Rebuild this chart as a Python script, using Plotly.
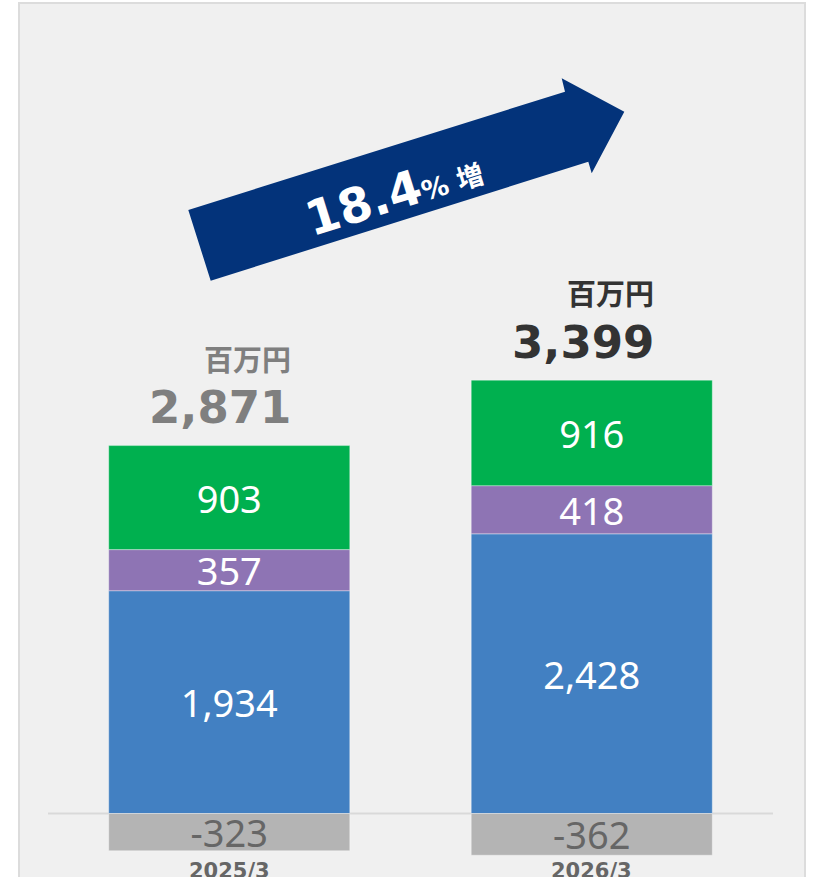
import plotly.graph_objects as go

categories = ["2025/3", "2026/3"]
seg_blue = [1934, 2428]
seg_purple = [357, 418]
seg_green = [903, 916]
seg_gray = [-323, -362]
totals = [2871, 3399]
total_colors = ["#7f7f7f", "#333333"]
unit_label = "百万円"
growth_main = "18.4"
growth_suffix = "% 増"

W, H = 815, 877
ML, MR = 48, 42
PW = W - ML - MR

def px2paper(px, py):
    return (px - ML) / PW, 1 - py / H

x_pos = [0, 1]
fig = go.Figure()
num_font = dict(family="Noto Sans, Open Sans, sans-serif", size=38, color="white")
line = dict(width=1, color="rgba(255,255,255,0.35)")
for vals, col, tcol, name in [
    (seg_blue, "#4280c2", "white", "blue"),
    (seg_purple, "#8e74b4", "white", "purple"),
    (seg_green, "#00b04f", "white", "green"),
    (seg_gray, "#b4b4b4", "#666666", "gray"),
]:
    fig.add_trace(go.Bar(
        x=x_pos, y=vals, name=name, width=0.665,
        marker=dict(color=col, line=line),
        text=[f"{v:,}" for v in vals], textposition="inside",
        insidetextanchor="middle", textangle=0,
        textfont=dict(num_font, color=tcol),
        hoverinfo="skip", showlegend=False,
    ))

# panel background
fig.add_shape(type="rect", xref="paper", yref="paper",
              x0=px2paper(19, 0)[0], x1=px2paper(805, 0)[0],
              y0=px2paper(0, 3)[1], y1=px2paper(0, 900)[1],
              fillcolor="#f0f0f0", line=dict(color="#dcdcdc", width=2), layer="below")
# zero line
fig.add_shape(type="line", xref="x", yref="y", x0=-0.5, x1=1.5, y0=0, y1=0,
              line=dict(color="#d9d9d9", width=2), layer="below")

# arrow
pts = [(188.3, 210), (565, 91.7), (561.7, 78.3), (624.3, 111.7),
       (591.7, 173.3), (588.3, 161.7), (210.7, 280.7)]
path = "M " + " L ".join(f"{px2paper(a, b)[0]:.5f},{px2paper(a, b)[1]:.5f}" for a, b in pts) + " Z"
fig.add_shape(type="path", xref="paper", yref="paper", path=path,
              fillcolor="#03337a", line=dict(width=0))
ax, ay = px2paper(394, 193.5)
fig.add_annotation(xref="paper", yref="paper", x=ax, y=ay, showarrow=False,
                   xanchor="center", yanchor="middle", textangle=-17.4,
                   text=f"<b>{growth_main}<span style='font-size:27px'>{growth_suffix}</span></b>",
                   font=dict(family="DejaVu Sans, Noto Sans CJK JP", size=48, color="white"))

for i, cat in enumerate(categories):
    top = seg_blue[i] + seg_purple[i] + seg_green[i]
    fig.add_annotation(x=x_pos[i], y=top, xref="x", yref="y", showarrow=False,
                       xanchor="right", yanchor="middle", xshift=64, yshift=38,
                       text=f"<b>{totals[i]:,}</b>",
                       font=dict(family="DejaVu Sans, Verdana, sans-serif", size=45, color=total_colors[i]))
    fig.add_annotation(x=x_pos[i], y=top, xref="x", yref="y", showarrow=False,
                       xanchor="right", yanchor="middle", xshift=64, yshift=88,
                       text=f"<b>{unit_label}</b>",
                       font=dict(family="Noto Sans CJK JP", size=29, color=total_colors[i]))
    fig.add_annotation(x=x_pos[i], y=0, xref="x", yref="y", showarrow=False,
                       xanchor="center", yanchor="top", yshift=-43,
                       text=f"<b>{cat}</b>",
                       font=dict(family="DejaVu Sans, Verdana, sans-serif", size=21, color="#666666"))

fig.update_layout(
    width=W, height=H, margin=dict(l=ML, r=MR, t=0, b=0),
    barmode="relative", paper_bgcolor="white", plot_bgcolor="rgba(0,0,0,0)",
    uniformtext=dict(minsize=38, mode="show"),
    xaxis=dict(range=[-0.5, 1.5], visible=False, fixedrange=True),
    yaxis=dict(range=[-551, 7062], visible=False, fixedrange=True),
    showlegend=False,
)
fig.write_html("out.html", config={"displayModeBar": False},
               post_script="document.body.style.margin='0px';document.body.style.overflow='hidden';")
